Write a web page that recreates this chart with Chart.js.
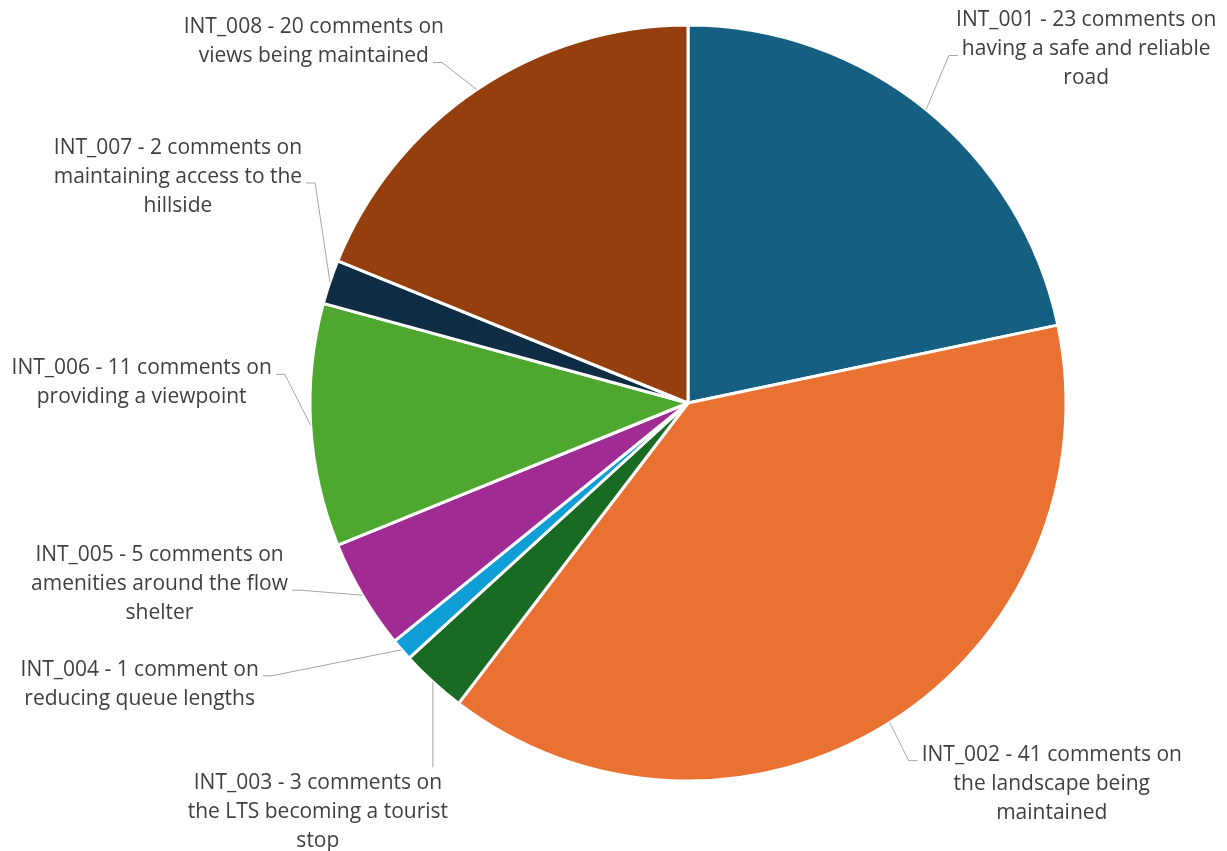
<!DOCTYPE html>
<html>
<head>
<meta charset="utf-8">
<title>Comments by interest</title>
<script src="https://cdn.jsdelivr.net/npm/chart.js@4.4.1/dist/chart.umd.min.js"></script>
<style>
    body { margin: 0; background: #ffffff; }
    #pie-chart { display: block; }
</style>
</head>
<body>
<canvas id="pie-chart" width="1227" height="851"></canvas>
<script>
// data
const categories = ['INT_001', 'INT_002', 'INT_003', 'INT_004', 'INT_005', 'INT_006', 'INT_007', 'INT_008'];
const counts = [23, 41, 3, 1, 5, 11, 2, 20];
const topicLines = [
    ['having a safe and reliable', 'road'],
    ['the landscape being', 'maintained'],
    ['the LTS becoming a tourist', 'stop'],
    ['reducing queue lengths'],
    ['amenities around the flow', 'shelter'],
    ['providing a viewpoint'],
    ['maintaining access to the', 'hillside'],
    ['views being maintained']
];
const sliceColors = ['#156082', '#E97132', '#196B24', '#0F9ED5', '#A02B93', '#4EA72E', '#0E2D45', '#953F0E'];

// where each label sits, relative to the outer middle of its slice
// dx/dy = centre of first text line, attach = which side/line the leader goes to
const labelPlacement = [
    { dx: 160, dy: -89, side: 'left', line: 1 },
    { dx: 162, dy: 32, side: 'left', line: 0 },
    { dx: -115, dy: 101, side: 'top', line: 0 },
    { dx: -262, dy: 20, side: 'right', line: 0 },
    { dx: -203, dy: -40, side: 'right', line: 1 },
    { dx: -169, dy: -57, side: 'right', line: 0 },
    { dx: -152, dy: -134, side: 'right', line: 1 },
    { dx: -163, dy: -62, side: 'right', line: 1 }
];

const FONT = '21px "Open Sans"';
const LINE_H = 29;

function labelText(i) {
    const n = counts[i];
    const first = categories[i] + ' - ' + n + (n === 1 ? ' comment on' : ' comments on');
    return [first].concat(topicLines[i]);
}

const outsideLabels = {
    id: 'outsideLabels',
    afterDatasetsDraw(chart) {
        const ctx = chart.ctx;
        const arcs = chart.getDatasetMeta(0).data;
        ctx.save();
        ctx.font = FONT;
        ctx.textAlign = 'center';
        ctx.textBaseline = 'middle';
        arcs.forEach((arc, i) => {
            const p = arc.getProps(['x', 'y', 'startAngle', 'endAngle', 'outerRadius'], true);
            const mid = (p.startAngle + p.endAngle) / 2;
            const ax = p.x + Math.cos(mid) * p.outerRadius;
            const ay = p.y + Math.sin(mid) * p.outerRadius;
            const place = labelPlacement[i];
            const lines = labelText(i);
            const cx = ax + place.dx;
            const cy = ay + place.dy;

            // leader line
            let ex, ey, kx, ky;
            if (place.side === 'top') {
                ex = ax; ey = cy - LINE_H / 2 - 1;
                kx = ex; ky = ey;
            } else {
                const lineY = cy + place.line * LINE_H;
                const w = ctx.measureText(lines[place.line]).width;
                ey = lineY + 6;
                if (place.side === 'left') {
                    ex = cx - w / 2 - 4;
                    kx = ex - 9;
                } else {
                    ex = cx + w / 2 + 4;
                    kx = ex + 9;
                }
                ky = ey;
            }
            ctx.strokeStyle = '#a6a6a6';
            ctx.lineWidth = 1;
            ctx.beginPath();
            ctx.moveTo(ax, ay);
            ctx.lineTo(kx, ky);
            ctx.lineTo(ex, ey);
            ctx.stroke();

            ctx.fillStyle = '#3f3f3f';
            lines.forEach((t, j) => {
                ctx.fillText(t, cx, cy + j * LINE_H);
            });
        });
        ctx.restore();
    }
};

const ctx = document.getElementById('pie-chart').getContext('2d');
const pieChart = new Chart(ctx, {
    type: 'pie',
    data: {
        labels: categories,
        datasets: [{
            data: counts,
            backgroundColor: sliceColors,
            borderColor: '#ffffff',
            borderWidth: 3
        }]
    },
    options: {
        responsive: false,
        animation: false,
        radius: 378,
        layout: {
            padding: { left: 310, right: 161, top: 25, bottom: 70 }
        },
        plugins: {
            legend: { display: false },
            tooltip: { enabled: false }
        }
    },
    plugins: [outsideLabels]
});
</script>
</body>
</html>
